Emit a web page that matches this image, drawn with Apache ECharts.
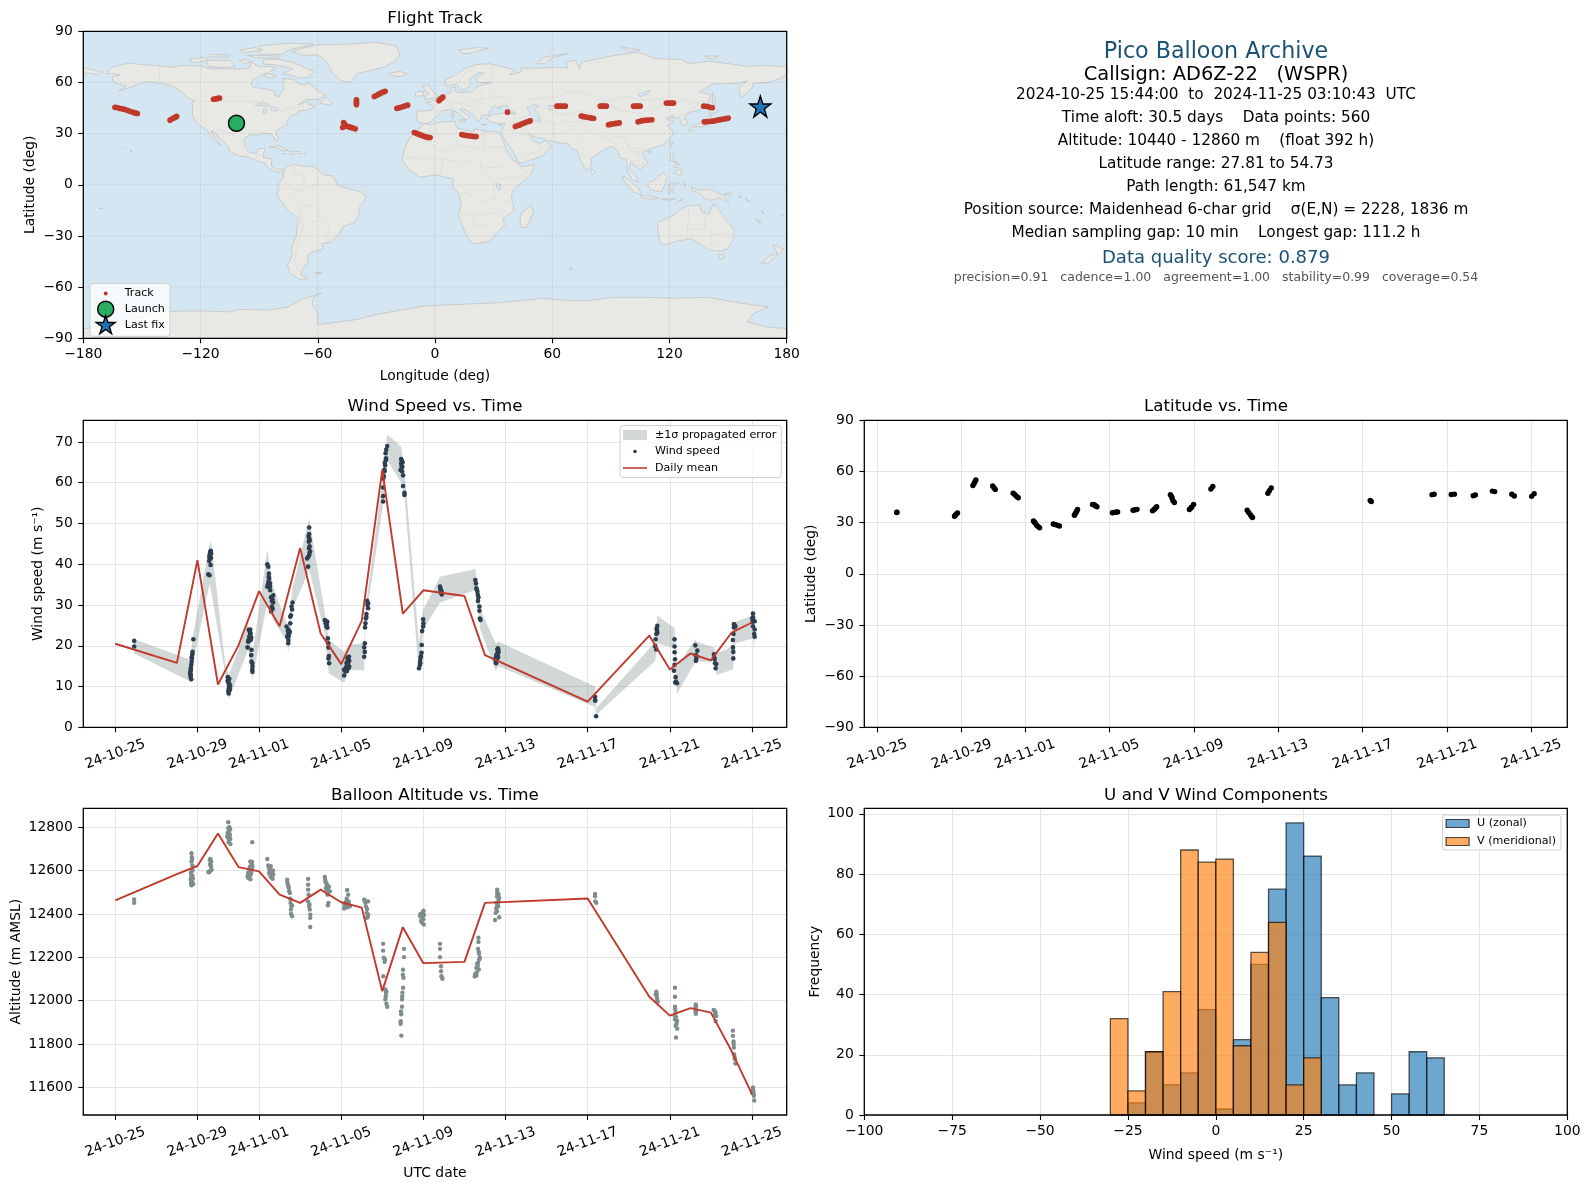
<!DOCTYPE html>
<html><head><meta charset="utf-8"><style>html,body{margin:0;background:#fff}#c{width:1590px;height:1189px}</style>
<script src="https://cdn.jsdelivr.net/npm/echarts@6/dist/echarts.min.js"></script></head><body><div id="c"></div>
<script>
const FONT='DejaVu Sans';
const RED='#c0392b',NAVY='#2c3e50',GREY='#7f8c8d',BLUE='#1a5276';
const xTickDays=[0,4,7,11,15,19,23,27,31];
const xTickLabels=['24-10-25','24-10-29','24-11-01','24-11-05','24-11-09','24-11-13','24-11-17','24-11-21','24-11-25'];
const meanDays=[0,3,4,5,6,7,8,9,10,11,12,13,14,15,17,18,23,26,27,28,29,30,31];
const windMean=[20.5,15.8,41,10.5,20.1,33.4,24.8,44,23,15.5,26.1,63.2,27.9,33.6,32.2,17.7,6.3,22.5,14.2,18.1,16.4,23.2,25.7];
const altMean=[12463,12584,12621,12771,12616,12596,12489,12451,12512,12454,12429,12044,12339,12173,12179,12451,12471,12018,11931,11966,11945,11769,11569];
const windPoints=[[.92,21.2],[.92,19.8],
[3.8,21.6],[3.76,18.5],[3.75,17.9],[3.73,16.9],[3.72,16.1],[3.7,15.3],[3.68,14.5],[3.66,13.6],[3.68,12.8],[3.66,12.4],[3.7,11.8],[3.64,13.2],[3.72,17.2],[3.67,14],
[4.64,43.1],[4.67,42.6],[4.62,41.8],[4.6,41.4],[4.57,40.8],[4.64,39.8],[4.53,37.5],[4.59,37.3],[4.65,43.3],[4.6,42.4],[4.66,41.5],[4.62,43],[4.58,41.9],
[5.48,12.3],[5.52,11.6],[5.47,11.4],[5.56,10.6],[5.59,10.1],[5.53,9.6],[5.58,9.2],[5.52,8.3],[5.5,11],[5.55,11.9],[5.54,10.2],[5.5,8.9],
[6.5,23.9],[6.55,23.4],[6.59,23],[6.52,22.2],[6.62,22],[6.49,21.4],[6.47,21],[6.44,19.6],[6.63,19],[6.62,17.7],[6.63,16.1],[6.67,15.7],[6.68,14.9],[6.67,14.1],[6.68,13.6],[6.56,22.6],[6.53,21.2],[6.6,21.5],[6.57,24],
[7.4,40],[7.45,39.4],[7.48,37.7],[7.49,36.5],[7.46,35.7],[7.53,35.3],[7.4,34.5],[7.53,34.5],[7.54,33.6],[7.69,32.4],[7.58,31.9],[7.66,31.4],[7.69,30.6],[7.62,29.6],[7.59,28.4],[7.66,29.1],[7.47,36.9],[7.5,35],[7.44,35.1],[7.62,31],
[8.63,30.6],[8.58,29.6],[8.61,28.9],[8.55,27.5],[8.52,27.1],[8.52,25.5],[8.34,24.7],[8.43,24],[8.5,23.4],[8.42,22.9],[8.37,22.2],[8.43,21.4],[8.42,20.6],[8.47,23.2],[8.4,23.6],[8.45,22.4],
[9.44,49],[9.44,47.4],[9.41,46.9],[9.47,45.8],[9.46,44.4],[9.43,43.9],[9.49,43.1],[9.44,42.2],[9.38,41.7],[9.34,41.4],[9.39,39.4],[9.42,45.5],[9.44,46.3],[9.46,42.8],
[10.2,26.3],[10.32,25.9],[10.25,25.5],[10.28,24.7],[10.33,24.4],[10.35,21.8],[10.37,20.6],[10.38,19.6],[10.4,17.5],[10.38,16.9],[10.41,15.7],[10.24,26.1],[10.3,25.2],
[11.38,17.3],[11.31,16.9],[11.39,16.3],[11.26,15.8],[11.32,15.3],[11.39,14.9],[11.23,14.7],[11.14,14.1],[11.26,14.2],[11.14,12.7],[11.35,16],[11.3,15.9],[11.35,14.5],[11.2,13.7],[11.33,17.2],[11.28,13.8],
[12.26,31],[12.31,30.4],[12.31,29.2],[12.23,27.8],[12.2,26.7],[12.18,25.5],[12.16,24.5],[12.15,20.6],[12.12,19.6],[12.15,18.5],[12.12,17.3],[12.28,30],[12.22,27],
[13.24,69],[13.19,68.1],[13.16,67.2],[13.17,65.5],[13.14,64.3],[13.11,62.8],[13.07,61.6],[13.04,61],[13.04,58.8],[13.04,56.7],[13.04,55.4],[13.18,66],[13.12,64.8],[13.1,63.2],
[13.92,65.8],[13.95,65.4],[13.92,64.7],[13.98,63.9],[13.89,63.1],[14.01,61.8],[14.01,59.2],[14.08,57.5],[14.08,57],[13.94,64],[13.99,65],[13.96,62.8],
[14.99,26.5],[15,25.5],[14.99,24.7],[14.94,23.6],[14.92,20.2],[14.91,18.3],[14.86,16.9],[14.84,16.1],[14.83,15.3],[14.79,14.5],[14.88,17.4],[14.85,15.7],
[15.81,34.5],[15.84,33.7],[15.86,33],[15.9,32.6],[15.83,34.1],[15.88,33.4],
[17.53,36.1],[17.56,35.3],[17.58,34.1],[17.63,33.3],[17.68,31.9],[17.66,31],[17.73,29.6],[17.73,28.6],[17.75,26.7],[17.78,26.3],[17.6,33.8],[17.65,32.5],
[18.65,19],[18.62,18.3],[18.56,17.7],[18.64,17.3],[18.51,16.9],[18.57,16.5],[18.54,15.7],[18.6,19],[18.58,17.9],[18.66,18.4],[18.52,16.3],[18.6,16.9],[18.63,19.4],[18.55,17],[18.62,17.6],
[23.36,7.5],[23.36,6.7],[23.37,6.5],[23.41,2.7],
[26.39,24.9],[26.36,24.3],[26.39,23.2],[26.34,22.9],[26.31,21.6],[26.29,19.9],[26.34,19.1],[26.37,23.8],
[27.23,21.6],[27.23,19.8],[27.23,18.4],[27.25,16.7],[27.23,15.3],[27.2,13.9],[27.28,12.3],[27.26,11],[27.35,10.8],[27.3,11.2],
[28.24,20.1],[28.34,18.8],[28.27,17.7],[28.29,16.9],[28.27,16.3],
[29.15,17.9],[29.18,16.7],[29.2,15.7],[29.26,15.5],[29.23,14.5],[29.16,17.2],
[30.15,25.1],[30.12,24.5],[30.19,24.7],[30.1,22.9],[30.07,21.4],[30.07,19.6],[30.09,18.5],[30.09,16.9],[30.12,25.3],
[31.05,27.9],[31.05,27],[31.01,26.7],[31.13,26],[31.05,24.8],[31.13,24],[31.13,22.2],[31.11,22.9],[31.07,26.2],[31.03,25.9]];
const bandDays=[.92,3.68,3.72,3.8,4.58,4.66,5.35,5.53,6.47,6.67,7.4,7.69,8.37,8.42,8.61,9.44,10.2,10.4,11.14,11.39,12.12,12.18,12.26,13.04,13.24,13.92,14.08,14.79,14.99,15.81,17.53,17.78,18.52,18.67,23.36,23.41,26.29,26.39,27.23,27.35,28.24,28.3,29.15,29.26,30.07,30.19,31.05,31.13];
const bandLow=[18.1,11.2,10.8,16.1,35,33.7,13.2,6.9,19,11.6,30.4,26.3,21,18.3,28.8,38.6,23,13.2,10.9,14,14,23.9,28.4,54.7,65.5,60,56.5,12.8,23.9,30.6,33.7,23.9,13.9,15,5,3,16.3,20.6,19.4,8.2,16.1,16.1,16.1,12.8,14.2,20.6,21.8,19.4];
const bandHigh=[21.6,16.5,20,23,44.5,45.7,15.7,12.8,25.5,17.5,43.5,34.5,25.1,23.5,33.7,51.2,28.3,21.4,18.5,20.3,20.6,26.7,32,61.5,71.9,68.8,63,20.6,28.8,36.9,38.8,28.8,20.6,21,10,4.7,21,27.4,24.3,14.9,21.6,21,19.6,18.1,19.8,25.9,27.5,25.5];
const altPoints=[[.92,12467],[.92,12451],
[3.71,12680],[3.73,12661],[3.71,12642],[3.75,12624],[3.68,12589],[3.76,12576],[3.67,12558],[3.73,12550],[3.8,12538],[3.71,12532],[3.69,12570],[3.76,12600],[3.72,12545],[3.78,12563],[3.74,12650],[3.69,12540],
[4.64,12654],[4.67,12642],[4.62,12630],[4.66,12619],[4.69,12604],[4.57,12592],[4.53,12593],[4.6,12650],[4.64,12625],[4.6,12597],
[5.5,12823],[5.56,12800],[5.53,12780],[5.58,12765],[5.48,12752],[5.55,12742],[5.61,12722],[5.52,12771],[5.45,12758],[5.59,12790],[5.5,12795],[5.56,12755],[5.6,12745],[5.52,12730],[5.47,12775],[6.67,12731],
[6.57,12642],[6.64,12627],[6.54,12611],[6.65,12604],[6.47,12589],[6.59,12581],[6.49,12566],[6.68,12619],[6.44,12573],[6.6,12600],[6.52,12595],[6.62,12590],[6.56,12618],[6.66,12640],[6.5,12580],[6.58,12560],[6.63,12612],
[7.4,12653],[7.45,12624],[7.53,12604],[7.61,12593],[7.69,12581],[7.56,12573],[7.66,12562],[7.49,12589],[7.48,12612],[7.57,12620],[7.65,12590],[7.6,12568],[7.52,12595],[7.68,12600],
[8.37,12558],[8.4,12535],[8.45,12520],[8.5,12497],[8.53,12451],[8.58,12435],[8.55,12420],[8.61,12389],[8.47,12505],[8.52,12470],[8.38,12545],[8.43,12528],[8.56,12400],[8.6,12440],
[9.39,12561],[9.39,12535],[9.39,12512],[9.41,12489],[9.38,12458],[9.44,12435],[9.47,12420],[9.5,12397],[9.49,12382],[9.49,12340],[9.45,12445],
[10.2,12570],[10.24,12547],[10.32,12532],[10.25,12520],[10.36,12512],[10.33,12489],[10.38,12451],[10.35,12440],[10.45,12504],[10.28,12540],[10.4,12525],[10.22,12558],[10.3,12510],
[11.29,12510],[11.34,12489],[11.36,12458],[11.23,12455],[11.18,12435],[11.14,12425],[11.32,12443],[11.42,12435],[11.25,12445],[11.3,12430],[11.2,12450],[11.38,12445],[11.16,12445],[11.27,12470],
[12.12,12466],[12.31,12458],[12.18,12451],[12.26,12423],[12.31,12397],[12.23,12382],[12.15,12460],[12.24,12405],[12.29,12385],[12.2,12435],
[13.04,12262],[13.04,12231],[13.07,12198],[13.11,12179],[13.05,12113],[13.15,12052],[13.2,12041],[13.17,12021],[13.15,12006],[13.2,11986],[13.24,11972],[13.13,12190],[13.18,12035],
[14.06,12239],[14.06,12201],[14.01,12143],[14.03,12106],[14.01,12060],[13.98,12037],[13.96,12006],[13.96,11972],[13.92,11937],[13.89,11894],[13.93,11839],[14,12120],[13.97,12020],[13.91,11950],[13.9,11905],
[14.99,12412],[14.86,12400],[14.94,12385],[14.89,12369],[15.02,12351],[14.97,12405],[14.91,12392],[15,12375],[14.93,12360],[15.03,12395],[14.84,12390],[15.01,12415],
[15.81,12262],[15.81,12239],[15.81,12201],[15.86,12159],[15.86,12136],[15.88,12113],[15.93,12101],[15.9,12107],
[17.68,12290],[17.68,12271],[17.66,12239],[17.71,12216],[17.75,12198],[17.66,12175],[17.58,12152],[17.7,12144],[17.52,12121],[17.58,12116],[17.72,12190],[17.65,12160],[17.6,12130],[17.55,12125],[17.7,12225],[17.62,12170],[17.5,12112],
[18.59,12512],[18.61,12492],[18.69,12474],[18.56,12451],[18.64,12435],[18.59,12412],[18.52,12405],[18.69,12385],[18.49,12372],[18.6,12500],[18.66,12465],[18.58,12480],[18.63,12450],[18.54,12425],[18.6,12440],[18.66,12490],
[23.36,12492],[23.36,12481],[23.37,12458],[23.42,12451],
[26.34,12041],[26.31,12029],[26.37,12014],[26.41,11995],[26.36,12030],[26.39,12003],
[27.25,12060],[27.25,12018],[27.25,11972],[27.28,11945],[27.25,11914],[27.35,11907],[27.28,11884],[27.36,11871],[27.3,11830],[27.26,11960],[27.3,11925],[27.24,11930],[27.33,11895],
[28.26,11983],[28.24,11968],[28.29,11956],[28.27,11940],[28.28,11975],[28.25,11950],
[29.13,11957],[29.23,11945],[29.26,11929],[29.23,11906],[29.17,11955],[29.2,11935],
[30.07,11862],[30.07,11838],[30.1,11812],[30.12,11784],[30.13,11753],[30.17,11730],[30.19,11710],[30.15,11740],[30.11,11800],
[31.05,11600],[31.06,11585],[31.01,11574],[31.09,11562],[31.11,11540],[31.04,11590],[31.08,11575]];
const latPoints=[[.92,35.9],[.93,36.1],[3.66,33.7],[3.7,34.3],[3.74,35],[3.8,35.7],[4.53,51.7],[4.58,52.8],[4.62,53.8],[4.67,55],[5.47,51.5],[5.53,50.5],[5.59,49.5],[6.44,47.2],[6.5,46.6],[6.55,46],[6.62,45.2],[6.68,44.6],[7.4,31],[7.44,30.4],[7.48,29.8],[7.55,28.5],[7.62,27.8],[7.69,27],[8.34,29.2],[8.4,29],[8.47,28.7],[8.55,28.4],[8.63,28],[9.34,34.3],[9.38,35.2],[9.42,36],[9.46,37],[9.49,37.7],[10.2,40.7],[10.25,40.5],[10.3,40.3],[10.35,39.8],[10.41,39.3],[11.14,35.8],[11.2,35.9],[11.27,36],[11.33,36.2],[11.39,36.3],[12.12,37.3],[12.2,37.5],[12.25,37.6],[12.31,37.8],[13.04,36.9],[13.1,37.5],[13.14,38],[13.2,38.7],[13.24,39.3],[13.89,46.4],[13.94,45.4],[13.97,44.5],[14.01,43],[14.08,41.8],[14.79,37.7],[14.85,38.5],[14.9,39.2],[14.99,40.7],[15.81,49.7],[15.9,51.2],[17.53,37.3],[17.6,36],[17.68,34.6],[17.74,33.6],[17.78,33],[18.51,47.2],[18.58,48.7],[18.67,50.3],[23.36,43],[23.41,42.4],[26.29,46.4],[26.39,46.6],[27.2,46.5],[27.35,46.7],[28.24,45.8],[28.34,46.2],[29.15,48.5],[29.26,48.2],[30.07,46.6],[30.19,45.6],[31.01,45.4],[31.13,47]];
const trackPoints=[[-163.8,45.5],[-163,45.3],[-162,45],[-161,44.7],[-160,44.5],[-159,44.2],[-158,43.9],[-157,43.5],[-156,43],[-155,42.7],[-154,42.3],[-153,42],[-152.3,41.8],[-132.2,40.1],[-133,39.6],[-133.5,39.3],[-134,39],[-134.6,38.6],[-135.6,37.9],[-110.3,50.8],[-111,50.7],[-111.8,50.5],[-112.6,50.3],[-113.4,50.2],
[-40.2,49.9],[-40.2,49],[-40.2,48.2],[-40.2,47.5],[-40.2,46.9],[-25.5,54.8],[-26.2,54.5],[-27,54.2],[-28,53.6],[-29,53],[-30,52.4],[-31.1,51.8],[-14,46.7],[-14.8,46.5],[-15.5,46.2],[-16.5,45.8],[-17.5,45.4],[-18.5,45.1],[-19.5,44.8],
[-46.8,36.5],[-46.4,35.7],[-46,35],[-45,34.3],[-44.2,34],[-43.5,33.8],[-42.7,33.5],[-42,33.3],[-40.8,32.8],[-47.3,33.6],[-46.5,34.2],
[-10.6,30.7],[-9.8,30.3],[-9,29.9],[-8.2,29.6],[-7.6,29.3],[-6.8,29],[-6,28.6],[-5.2,28.3],[-4.5,28],[-3.5,27.8],[-2.5,27.7],[3,50.4],[3.5,50.9],[4,51.4],[2,49.3],[2.5,49.8],
[13.7,29.5],[14.6,29.2],[15.5,29],[16.5,28.9],[17.5,28.7],[18.5,28.5],[19.5,28.4],[20.3,28.3],[21.1,28.3],[37.1,42.6],[41.1,34.2],[42,34.6],[43,34.9],[44,35.4],[45,35.9],[46,36.4],[47,36.8],[48,37.2],[48.7,37.5],
[62.4,46.1],[63.4,46.1],[64.5,46.1],[65.6,46.1],[66.7,46.1],[74.8,40.3],[75.7,40.1],[76.5,39.9],[77.5,39.7],[78.5,39.5],[79.5,39.3],[80.3,39.1],[81.2,38.9],[84.6,46.1],[85.3,46.1],[86,46.1],[87,46.1],[87.7,46.1],[88.8,35.2],[89.7,35.4],[90.5,35.6],[91.5,35.8],[92.5,36],[93.4,36.1],[94.3,36.3],[101.6,46.1],[102.5,46.1],[103.3,46.1],[104.2,46.1],[105,46.1],[103.9,36.9],[105,37.3],[106,37.6],[107.2,37.8],[108.5,37.9],[109.7,38],[111,38.1],[118.4,47.9],[119.3,47.9],[120.2,47.9],[121.2,47.9],[122.1,47.9],[137.5,46.1],[138.5,46],[139.5,45.9],[140.7,45.5],[141.9,45.2],[137.8,36.9],[139,37],[140,37.1],[141,37.2],[142,37.3],[143,37.5],[144,37.8],[145,38],[146,38.2],[147,38.4],[148,38.6],[149,38.8],[150.1,39.1],[165.4,44.8]];
const launchPoint=[-101.6,36.1];
const lastFixPoint=[166.5,45.9];
const binStarts=[-30,-25,-20,-15,-10,-5,0,5,10,15,20,25,30,35,40,45,50,55,60];
const uCounts=[0,4,21,10,14,35,2,25,50,75,97,86,39,10,14,0,7,21,19];
const vCounts=[32,8,21,41,88,84,85,23,54,64,10,19,0,0,0,0,0,0,0];
const lonTicks=[-180,-120,-60,0,60,120,180];
const latTicks=[-90,-60,-30,0,30,60,90];
const windTicks=[0,10,20,30,40,50,60,70];
const altTicks=[11600,11800,12000,12200,12400,12600,12800];
const histXTicks=[-100,-75,-50,-25,0,25,50,75,100];
const histYTicks=[0,20,40,60,80,100];
const land=[
[[-168,65.5],[-166,68.5],[-162,70],[-156.5,71.3],[-150,70.5],[-141,69.7],[-135,69],[-128,70],[-120,69.5],[-115,68],[-108,68],[-100,68],[-95,68.5],[-94,72],[-90,69],[-85,69.5],[-81.5,68.5],[-85,66],[-87,65],[-93,62],[-94.5,59],[-92.5,57],[-88,56.5],[-82.5,55],[-82,52.5],[-79.5,51.5],[-79,54],[-77,56],[-78,59],[-77.5,62.5],[-72,61.5],[-69,59],[-66,58.5],[-64.5,60.3],[-61.5,56.5],[-56,52.5],[-60,50],[-66,50],[-70,47],[-65,49],[-64.5,47],[-61,46],[-65.5,43.7],[-70,43.5],[-70.5,41.7],[-74,40.5],[-75.5,37.5],[-76,35],[-81,32],[-81.3,30],[-80,26.5],[-81,25.2],[-82.7,28],[-84,30],[-89,30.2],[-90,29.2],[-94,29.5],[-97.3,27.5],[-97.7,22.5],[-95,18.7],[-91.5,18.5],[-90.5,21],[-87,21.5],[-88,16],[-83.5,15],[-83.7,11],[-81,9],[-78,9.5],[-77.3,8],[-78.5,8],[-80,7.3],[-83,8.3],[-85.7,10],[-87.5,13],[-91,14],[-95,16],[-100,17],[-105,19.5],[-105.5,22],[-109,26],[-113,31],[-114.7,31.5],[-112,27],[-109.5,23],[-112,25],[-115,29],[-117,32.5],[-120.5,34.5],[-122.5,37.5],[-124.3,40.5],[-124,46],[-124.5,48.4],[-123,49],[-127,51.5],[-130,54.5],[-133,57],[-137,58.5],[-143,60],[-148,60.5],[-152,59],[-156,57],[-162,55],[-158,58],[-162,59],[-165,61],[-165,63.5],[-161,64.5]],
[[-180,68.5],[-175,67.5],[-170,66],[-173,64.5],[-178,65.5],[-180,65]],
[[-73,78],[-68,80],[-60,82],[-45,82.5],[-30,83.5],[-20,81.5],[-18,76.5],[-21,72],[-26,69],[-33,67],[-40,65],[-43,60],[-48,61],[-52,65],[-54,69],[-56,73],[-60,76],[-68,76]],
[[-80,73.5],[-72,71.5],[-67,69],[-62,66.5],[-65,63],[-70,62.5],[-74,64.5],[-78,65],[-73,68],[-80,70],[-88,71],[-88,73.5]],
[[-117,73],[-105,73],[-102,69.5],[-110,68.7],[-116,69.5]],[[-125,74],[-118,74.5],[-116,73],[-122,71.5],[-125,72]],
[[-90,76.5],[-78,76.5],[-75,79],[-62,82.5],[-75,83],[-90,81.5]],[[-96,76],[-80,75.5],[-80,74.5],[-92,74.5]],[[-115,76.5],[-105,76],[-106,74.8],[-115,75]],
[[-100,79],[-92,80.5],[-88,79],[-97,77.5]],[[-87,65.5],[-81,64],[-84,62.5],[-87,63.5]],[[-100,73],[-96,73.5],[-94,72],[-98,71]],
[[-59,47.7],[-53,46.7],[-53,48.5],[-56,51.5]],[[-85,22],[-80,23],[-74.5,20],[-77.5,20],[-82,22]],[[-74,19.5],[-69,19.5],[-68.5,18.3],[-74,18]],[[-78.3,18.4],[-76.3,18.2],[-77,17.8]],[[-67.2,18.5],[-65.7,18.4],[-66,18]],
[[-156,20.2],[-155,19.7],[-155.6,19]],[[-159.7,22.2],[-159.3,22.1],[-159.5,21.8]],[[-158.2,21.6],[-157.7,21.4],[-158,21.2]],
[[-61,-51.4],[-58,-51.4],[-58.5,-52.2],[-61,-52.2]],[[-170,-14],[-171,-13.5],[-172,-14]],
[[-77.5,8],[-75.5,10.8],[-72,12],[-68,11],[-62,10.5],[-57,6],[-52,5],[-50,0],[-44,-2.5],[-38,-4],[-35,-7],[-39,-14],[-39,-18],[-41,-22],[-47,-24.5],[-48.5,-28],[-53,-33.5],[-58,-34.5],[-57,-38],[-62,-39],[-65,-41],[-65,-45],[-68,-50],[-68.5,-53],[-65,-55],[-69,-55.5],[-74,-52],[-75.5,-47],[-73,-41],[-73.5,-37],[-71,-30],[-70,-20],[-76,-14],[-81,-6],[-80,-2],[-80,1],[-77.5,4]],
[[-6,35.8],[-2,35.2],[3,36.8],[10,37.3],[11,33.5],[15,32.3],[20,31],[20,32.8],[25,31.6],[32,31],[34.3,27.5],[35.5,24],[37,19],[39.5,15],[43,12],[44,10.5],[51,11.8],[49,6],[44,1],[40,-3],[39,-7],[40.5,-15],[35,-20],[35.5,-24],[32.7,-27],[28,-33],[20,-34.8],[18,-33],[15,-27],[12,-18],[13.5,-11],[12,-5],[9,-1],[9.5,3.5],[6,4.3],[1,5.8],[-4,5],[-8,4.5],[-13,8.5],[-17,14.5],[-16,20],[-13,27.5],[-9.5,31]],
[[-9,37],[-9.5,39],[-9,43.2],[-2,43.5],[-1,46],[-4.5,48.4],[-1.5,49],[2,51],[4,52],[8,54],[8.3,57],[10.5,57.5],[10,55],[12,54],[19,54.5],[21,57],[24,58.5],[29,60],[23,60],[21,61],[21.5,63],[25,65.5],[22,65.7],[17.5,62],[18.5,60],[16,56],[13,55.5],[11,59],[6,58],[5,61.5],[10,64],[15,68],[21,70.5],[28,71],[33,69.5],[41,67.5],[38,64.5],[44,66],[44,68.5],[54,68.5],[60,69],[68,68.5],[67,72],[72,73],[74,68],[75,72],[80,73],[90,75.5],[104,77.7],[113,74],[126,73.5],[130,71],[140,72.5],[150,71],[160,69.5],[170,70],[180,69],[180,65],[177,62.5],[170,60],[163,59.5],[162,56],[156.5,51],[155.5,57],[160,61],[155,59.5],[142,59],[135,54.5],[141,53],[140,48],[135,43.5],[130,42.5],[127.5,39.5],[129.5,36],[126.5,34.5],[126,37],[125,39.5],[121,39],[122,40.8],[118,39],[122.5,37],[119,35],[122,31],[121,28],[117,23.5],[110,21],[106,19],[109,13],[105,9],[103,11],[100,13.5],[99.5,9],[103,5],[104,1.5],[101,3],[98.5,8],[98,15],[94.5,16],[94,19],[91,22.5],[87,21],[80,15.5],[80,11],[77.5,8],[74.5,14],[72.8,20],[70,21],[68,24],[62,25],[57,26],[56,27],[51,28],[48,30],[50,26],[51.5,25],[54,24],[56.3,26],[59.5,22.5],[55,17],[45,13],[43,13],[39,21],[35,28],[34,31.3],[36,36],[32,36.2],[28,36.7],[26.5,39],[29,41],[35,42],[41.5,41.5],[38,44.5],[37,46.5],[33,46],[33.5,44.5],[30.5,46.5],[28,43],[28,41],[24,40.8],[23,38],[22,37],[19.5,41],[14,45],[12.5,44],[18,40],[16,38],[12,42],[8.5,44.3],[3.5,43.3],[0,39.5],[-2,36.8],[-5.5,36]],
[[-5.5,50],[1.5,51.2],[0,53.5],[-2,56],[-3,58.7],[-6,58],[-5,55],[-3,54],[-5,52]],[[-10,52],[-6,52.2],[-6,55],[-10,54.2]],[[-24,65.5],[-18,66.5],[-14,65],[-18,63.4],[-22.5,64]],
[[12,79],[22,80.5],[27,80],[18,77],[14,77]],[[52,71],[56,75],[68,77],[60,74.5],[56,71]],[[95,81],[105,79],[100,78]],[[138,75.5],[145,75.5],[142,73.5]],
[[142,54],[143.5,50],[143,46],[142,48]],[[130,31.5],[131.5,31.5],[132,34],[136,34],[140,35],[141.5,38],[141.5,41],[140,40.5],[138.5,37.5],[136,36],[132,35],[130,33.5]],[[140,42],[141.5,45.3],[145,43.5],[143,42]],
[[120.2,25],[122,25],[120.8,22]],[[108.8,19.5],[111,20],[110,18.3]],[[120.5,18.5],[122,18],[122,14],[124,13],[120.5,14]],[[122,7],[125.5,9.5],[126.5,7],[125,5.7]],[[122.5,11.5],[125,12.5],[124,10],[122.5,10]],
[[95.5,5.5],[98,4],[104,-2],[106,-5.8],[102,-4.5],[97,2]],[[105,-6.5],[110,-6.5],[114.5,-7.8],[111,-8.5],[106,-7.5]],[[109,1.5],[111,2],[114,4.5],[117,7],[119,5],[117.8,1],[116,-4],[111,-3.3],[109,-.5]],[[119.5,-5.5],[120,.5],[125,1.5],[121,-1],[122.5,-5],[120.5,-3]],[[116,-8.3],[119,-8.3],[123,-8.4],[120,-9]],[[124,-10],[127,-8.5],[123.5,-10.3]],[[127.5,2],[128.5,.5],[127.7,-.5]],
[[131,-1],[135,-3.3],[141,-2.5],[147,-6],[150.5,-10.5],[145,-7.7],[141,-9],[138,-8],[135,-4.5],[132,-3.5]],[[148,-5.5],[152,-4],[151,-6.2]],[[155,-6],[157,-7.5],[155.5,-7]],[[159,-8],[161.5,-10],[160,-9.8]],[[167,-15],[167.5,-16.5],[168.5,-17]],[[164,-20],[167,-22],[166,-22.2]],[[177,-17.5],[178.5,-17.5],[178,-18.3]],
[[114,-22],[122,-18],[126,-14],[130,-12],[136,-12],[136,-15],[140,-17.5],[142.5,-11],[145.5,-15],[149,-21],[153,-26],[153,-31],[150,-37.5],[146,-39],[140,-38],[136,-35],[131,-31.5],[124,-33],[118,-35],[115,-34],[114,-26]],
[[145,-41],[148,-41],[147.5,-43.5],[146,-43.5]],[[173,-35],[178.5,-37.7],[175,-41.5],[174.5,-38.5]],[[172.5,-40.7],[174,-42],[170.5,-46],[167,-46],[170,-43]],
[[49.5,-12],[50.5,-16],[47,-25],[44,-25],[43.5,-20],[44.5,-16]],[[80,9.7],[82,7.5],[80.5,6],[79.8,8]],[[68.5,-49],[70.5,-49.2],[69.5,-50]],
[[12.4,38],[15.5,38.2],[15,36.7]],[[8.2,41],[9.8,41],[9.5,39],[8.5,39]],[[8.6,43],[9.5,43],[9.2,41.4]],[[23.5,35.5],[26.3,35.3],[24.5,34.9]],[[32.5,35.1],[34.5,35.6],[33.5,34.6]],
[[-180,-84.3],[-160,-82],[-150,-77.5],[-160,-75.5],[-130,-74],[-118,-74],[-105,-74.5],[-100,-73],[-85,-73.5],[-75,-71.5],[-68,-67],[-58,-63.5],[-62,-65.5],[-63,-70],[-60,-75],[-60,-82],[-40,-79],[-30,-76],[-15,-73],[-5,-71],[15,-70],[35,-69],[55,-66.5],[70,-68],[78,-68],[90,-66],[110,-66],[120,-66.5],[140,-66],[160,-70],[170.8,-71.6],[163,-75.5],[159.7,-80.4],[170,-83.4],[180,-84.3],[180,-90],[-180,-90]]];
const inlandWater=[[[47,45],[51,47],[53.5,46],[51,44.5],[53,41],[54,37],[50,37.5],[49,40.5]],[[58,46.5],[61,46.5],[60,44],[58.5,44]],[[-88,48.5],[-84.5,47],[-85,46],[-92,46.8]],[[-87.5,45],[-86,44],[-86.5,42],[-88,42]],[[-84,46],[-80,45],[-81.5,43],[-84,44]],[[31,1],[34,0],[33,-3],[32,-2]],[[103.5,53],[110,55.5],[109,53.5],[105,51.5]]];
const borders=[[[-141,69.7],[-141,60.2],[-135,58.8],[-130,55]],[[-123,49],[-95,49],[-88,48],[-83,45.5],[-79,43],[-75,45],[-71,45],[-68,47],[-67,45]],[[-117,32.5],[-108,31.5],[-104,29.5],[-97.3,25.9]],[[-92,14.7],[-91,17.5],[-89,17.8],[-88,15.5]],
[[-72,12],[-72,7],[-67,6],[-67,1],[-70,-4],[-74,-7.5],[-70,-11],[-69,-16],[-69,-22]],[[-60,5],[-60,1],[-70,-4]],[[-69,-11],[-60,-13.5],[-58,-20],[-55,-24],[-54,-27],[-57,-30.5],[-53,-33.5]],[[-70,-18],[-67,-23],[-70,-33],[-72,-45],[-69,-52]],[[-80,-3],[-75,-1],[-70,-4]],[[-60,-20],[-62,-22],[-65,-22]],
[[-9,27.5],[-3,30],[-2,35]],[[-13,27.5],[-8,27],[4,19],[12,23.5],[25,20],[25,31.6]],[[12,23.5],[10,30],[8,33],[9,37]],[[25,22],[36,22]],[[-16,16],[-5,15.5],[4,15],[14,13],[23,15],[24,10],[34,10],[37,15]],[[4,15],[3,6.5]],[[14,13],[9,4.5]],[[24,10],[28,4],[34,4],[41,4],[48,8]],[[34,4],[30,-1],[30,-8],[40,-11]],[[12,-5],[17,-5],[22,-11],[30,-8]],[[12,-17.5],[23,-17.5],[33,-16],[35,-20]],[[17,-28.5],[20,-25],[20,-18]],[[20,-25],[30,-22.5],[32,-26]],
[[-2,43.5],[3,42.5]],[[2,51],[6,49.5],[8,47.5],[7,44]],[[7,53.5],[6,50],[8,47.5],[13,47.5],[16,48.5],[23,48.5],[29,45.5]],[[14,54],[15,51],[19,49.5],[24,50.5],[23.5,54],[21,55.3]],[[13,47],[19,46],[22,44],[23,41.5]],[[24,50.5],[33,52],[40,49.5],[38,47]],[[28,56],[32,52.5]],[[28,60],[30,65],[29,69.5]],[[12,59],[14,64],[20,69]],
[[36,36],[42,37],[44.5,39.5],[49,41]],[[42,37],[46,35],[48,30]],[[36,32],[39,32],[46,29],[48,29]],[[44,17],[52,19],[55,22],[52,24]],[[46,39],[48,38],[56,38],[61,36],[61,30],[62,25]],[[61,36],[67,37],[74,37]],[[61,30],[66,30],[70,33],[74,37],[78,33],[74,27],[70,24]],
[[47.5,50],[55,51],[61,51],[69,55],[77,53.5],[83,51],[87,49]],[[54,42],[56,45],[66,41],[74,43],[80,42.5],[83,47],[87,49]],[[87,49],[98,52],[105,50],[116,50],[120,53],[127,50],[131,48],[135,48],[131,43]],[[87,49],[91,45.5],[96,43],[105,42],[112,45],[120,47],[116,50]],[[74,37],[80,42.5]],[[78,33],[80,30],[88,28],[97,28],[98,24],[102,21.5],[108,21.5]],[[88,27],[92,25],[93,22]],[[98,24],[100,20],[98,15]],[[102,21.5],[107,15],[106,11]],[[100,20],[105,18],[107,15]],[[100,14],[103,14],[105,14.5]],[[124.5,40],[130,42.5]],[[125,38],[128.5,38.4]],
[[130,-12],[129,-31.5]],[[129,-26],[141,-26],[141,-38]],[[138,-16.5],[138,-26]],[[141,-29],[153,-28.5]],[[141,-34],[149,-37.5]],[[141,-2.5],[141,-9]],[[110,1.5],[114,2],[117,4.5]]];
const STAR='M50 0L61.2 34.5L97.6 34.5L68.2 55.9L79.4 90.5L50 69.1L20.6 90.5L31.8 55.9L2.4 34.5L38.8 34.5Z';
const LEG_BOX='M0 0h0M130 0h0M0 100h0M130 100h0';
const panels={map:{left:83.3,top:31.3,width:703.4,height:307},wind:{left:83.3,top:420.3,width:703.4,height:307},lat:{left:864.3,top:420.3,width:703,height:307},alt:{left:83.3,top:808.3,width:703.4,height:306.7},hist:{left:864.3,top:808.3,width:703,height:306.7}};
const TICK_PX=13.9;
const tickLabel={color:'#000',fontFamily:FONT,fontSize:TICK_PX};
const nameStyle={color:'#000',fontFamily:FONT,fontSize:TICK_PX};
function timeAxis(gridIndex,name,min,max,gap){return {gridIndex,type:'value',min,max,name:name||'',nameLocation:'middle',nameGap:gap||51,nameTextStyle:nameStyle,
 axisLine:{show:false,onZero:false},axisTick:{show:true,length:5,customValues:xTickDays,lineStyle:{color:'#000',width:1.1}},
 splitLine:{show:true,lineStyle:{color:'#e4e4e4',width:1.1}},
 axisLabel:{...tickLabel,customValues:xTickDays,rotate:20,align:'center',verticalAlign:'middle',margin:27,formatter:v=>xTickLabels[xTickDays.indexOf(Math.round(v))]||''}};}
function valAxis(gridIndex,horizontal,min,max,ticks,name,gap,grid){return {gridIndex,type:'value',min,max,name,nameLocation:'middle',nameGap:gap,nameTextStyle:nameStyle,
 axisLine:{show:false,onZero:false},axisTick:{show:true,length:5,customValues:ticks,lineStyle:{color:'#000',width:1.1}},
 splitLine:{show:grid,lineStyle:{color:'#e4e4e4',width:1.1}},
 axisLabel:{...tickLabel,customValues:ticks,margin:horizontal?9:10.5,formatter:v=>String(v).replace('-','\u2212')}};}
const gridOpt=k=>({...panels[k],show:true,borderWidth:0,backgroundColor:k==='map'?'#d4e6f1':'transparent',containLabel:false});
function poly(api,pts){return pts.map(p=>api.coord(p));}
function legendStyle(extra,textPad){return Object.assign({orient:'vertical',backgroundColor:'rgba(255,255,255,0.8)',borderColor:'#d0d0d0',borderWidth:1,borderRadius:3,align:'left',textStyle:{fontFamily:FONT,fontSize:11.1,color:'#000',padding:[0,0,0,textPad]}},extra);}
function barSeries(name,counts,color,x,y){return {name,type:'custom',xAxisIndex:x,yAxisIndex:y,data:binStarts.map((s,i)=>[s,s+5,counts[i]]).filter(d=>d[2]>0),encode:{x:[0,1],y:2},
 renderItem:(p,api)=>{const a=api.coord([api.value(0),api.value(2)]),b=api.coord([api.value(1),0]);return {type:'rect',shape:{x:a[0],y:a[1],width:b[0]-a[0],height:b[1]-a[1]},style:{fill:color,stroke:'rgba(0,0,0,0.65)',lineWidth:1.3}};}};}
function frameSeries(i,x0,x1,y0,y1){return {name:'frame'+i,type:'custom',xAxisIndex:i,yAxisIndex:i,silent:true,clip:false,z:20,data:[[0]],renderItem:(p,api)=>{const a=api.coord([x0,y1]),b=api.coord([x1,y0]);return {type:'rect',shape:{x:a[0],y:a[1],width:b[0]-a[0],height:b[1]-a[1]},style:{fill:null,stroke:'#000',lineWidth:1.3}};}};}
const titles=[];
function addTitle(text,cx,top,size,color){titles.push({text,left:cx,top,textAlign:'center',padding:0,textStyle:{fontFamily:FONT,fontWeight:'normal',fontSize:size,color:color||'#000',lineHeight:size*1.15}});}
addTitle('Flight Track',435,9,16.7);addTitle('Wind Speed vs. Time',435,397,16.7);addTitle('Balloon Altitude vs. Time',435,786,16.7);addTitle('Latitude vs. Time',1216,397,16.7);addTitle('U and V Wind Components',1216,786,16.7);
const infoLines=[['Pico Balloon Archive',39.5,22.2,BLUE],['Callsign: AD6Z-22   (WSPR)',63.5,19.4,'#000'],['2024-10-25 15:44:00  to  2024-11-25 03:10:43  UTC',86.5,15.3,'#000'],['Time aloft: 30.5 days    Data points: 560',109.5,15.3,'#000'],['Altitude: 10440 - 12860 m    (float 392 h)',132.5,15.3,'#000'],['Latitude range: 27.81 to 54.73',155.5,15.3,'#000'],['Path length: 61,547 km',178.5,15.3,'#000'],['Position source: Maidenhead 6-char grid    \u03c3(E,N) = 2228, 1836 m',201.5,15.3,'#000'],['Median sampling gap: 10 min    Longest gap: 111.2 h',224.5,15.3,'#000'],['Data quality score: 0.879',248,18.05,BLUE],['precision=0.91   cadence=1.00   agreement=1.00   stability=0.99   coverage=0.54',271,12.5,'#555']];
infoLines.forEach(l=>addTitle(l[0],1216,l[1],l[2],l[3]));
const WMIN=-1.557,WMAX=32.69,LMIN=-0.616,LMAX=32.7;
const option={animation:false,backgroundColor:'#fff',textStyle:{fontFamily:FONT},title:titles,
grid:[gridOpt('map'),gridOpt('wind'),gridOpt('lat'),gridOpt('alt'),gridOpt('hist')],
xAxis:[valAxis(0,true,-180,180,lonTicks,'Longitude (deg)',31,false),timeAxis(1,'',WMIN,WMAX),timeAxis(2,'',LMIN,LMAX),timeAxis(3,'UTC date',WMIN,WMAX,51),valAxis(4,true,-100,100,histXTicks,'Wind speed (m s\u207b\u00b9)',33,true)],
yAxis:[valAxis(0,false,-90,90,latTicks,'Latitude (deg)',46,false),valAxis(1,false,0,75.3,windTicks,'Wind speed (m s\u207b\u00b9)',38,true),valAxis(2,false,-90,90,latTicks,'Latitude (deg)',46,true),valAxis(3,false,11473,12887,altTicks,'Altitude (m AMSL)',60,true),valAxis(4,false,0,101.85,histYTicks,'Frequency',42,true)],
legend:[
legendStyle({left:90,top:283.5,padding:[0,5,0,2],itemWidth:26,itemHeight:20,itemGap:-5,data:[
 {name:'Track',icon:'path://'+LEG_BOX+'M55 50a10 10 0 1 0 20 0a10 10 0 1 0 -20 0z',itemStyle:{color:RED}},
 {name:'Launch',icon:'path://'+LEG_BOX+'M25 50a40 40 0 1 0 80 0a40 40 0 1 0 -80 0z',itemStyle:{color:'#27ae60',borderColor:'#000',borderWidth:1.4}},
 {name:'Last fix',icon:'path://'+LEG_BOX+'M65 0L76.2 34.5L112.6 34.5L83.2 55.9L94.4 90.5L65 69.1L35.6 90.5L46.8 55.9L17.4 34.5L53.8 34.5Z',itemStyle:{color:'#1f77b4',borderColor:'#000',borderWidth:1.4}}]},1),
legendStyle({left:620,top:425.5,padding:[4,5,4,3],itemWidth:24,itemHeight:10,itemGap:5.5,data:[
 {name:'\u00b11\u03c3 propagated error',icon:'rect',itemStyle:{color:'rgba(127,140,141,0.35)'}},
 {name:'Wind speed',icon:'path://M0 0h0M24 0h0M0 10h0M24 10h0M10.2 5a1.8 1.8 0 1 0 3.6 0a1.8 1.8 0 1 0 -3.6 0z',itemStyle:{color:NAVY}},
 {name:'Daily mean',icon:'path://M0 0h0M24 0h0M0 10h0M24 10h0M0 4.2h24v1.6H0z',itemStyle:{color:RED}}]},3),
legendStyle({left:1442.5,top:815,padding:[3,5,3,3],itemWidth:23,itemHeight:8,itemGap:7,data:[
 {name:'U (zonal)',icon:'rect',itemStyle:{color:'rgba(31,119,180,0.65)',borderColor:'rgba(0,0,0,0.7)',borderWidth:1.2}},
 {name:'V (meridional)',icon:'rect',itemStyle:{color:'rgba(255,127,14,0.65)',borderColor:'rgba(0,0,0,0.7)',borderWidth:1.2}}]},3)],
series:[
{name:'land',type:'custom',xAxisIndex:0,yAxisIndex:0,silent:true,clip:true,z:1,data:land.map((_,i)=>[i]),renderItem:(p,api)=>({type:'polygon',shape:{points:poly(api,land[p.dataIndex])},style:{fill:'#e8e8e4',stroke:'#c2c4c4',lineWidth:.8}})},
{name:'water',type:'custom',xAxisIndex:0,yAxisIndex:0,silent:true,clip:true,z:1,data:inlandWater.map((_,i)=>[i]),renderItem:(p,api)=>({type:'polygon',shape:{points:poly(api,inlandWater[p.dataIndex])},style:{fill:'#d4e6f1',stroke:'#c2c4c4',lineWidth:.7}})},
{name:'borders',type:'custom',xAxisIndex:0,yAxisIndex:0,silent:true,clip:true,z:1,data:borders.map((_,i)=>[i]),renderItem:(p,api)=>({type:'polyline',shape:{points:poly(api,borders[p.dataIndex])},style:{fill:null,stroke:'#dcdcd8',lineWidth:.8}})},
{name:'graticule',type:'custom',xAxisIndex:0,yAxisIndex:0,silent:true,clip:true,z:1,data:[[0]],renderItem:(p,api)=>{const kids=[];const st={stroke:'rgba(128,128,128,0.28)',lineWidth:.8,lineDash:[2,2]};
 lonTicks.forEach(t=>{const a=api.coord([t,-90]),b=api.coord([t,90]);kids.push({type:'line',shape:{x1:a[0],y1:a[1],x2:b[0],y2:b[1]},style:st});});
 latTicks.forEach(t=>{const a=api.coord([-180,t]),b=api.coord([180,t]);kids.push({type:'line',shape:{x1:a[0],y1:a[1],x2:b[0],y2:b[1]},style:st});});
 return {type:'group',children:kids};}},
{name:'Track',type:'scatter',xAxisIndex:0,yAxisIndex:0,data:trackPoints,symbolSize:5.6,itemStyle:{color:RED,opacity:1},z:3},
{name:'Launch',type:'scatter',xAxisIndex:0,yAxisIndex:0,data:[launchPoint],symbolSize:16,itemStyle:{color:'#27ae60',borderColor:'#000',borderWidth:1.4,opacity:1},z:4},
{name:'Last fix',type:'scatter',xAxisIndex:0,yAxisIndex:0,data:[lastFixPoint],symbol:'path://'+STAR,symbolSize:21,itemStyle:{color:'#1f77b4',borderColor:'#000',borderWidth:1.4,opacity:1},z:4},
{name:'\u00b11\u03c3 propagated error',type:'custom',xAxisIndex:1,yAxisIndex:1,silent:true,clip:true,z:2,data:[[0]],renderItem:(p,api)=>{const up=bandDays.map((d,i)=>api.coord([d,bandHigh[i]]));const lo=bandDays.map((d,i)=>api.coord([d,bandLow[i]])).reverse();return {type:'polygon',shape:{points:up.concat(lo)},style:{fill:'rgba(127,140,141,0.35)'}};}},
{name:'Wind speed',type:'scatter',xAxisIndex:1,yAxisIndex:1,data:windPoints,symbolSize:4.6,itemStyle:{color:NAVY,opacity:1},z:3},
{name:'Daily mean',type:'line',xAxisIndex:1,yAxisIndex:1,data:meanDays.map((d,i)=>[d,windMean[i]]),symbol:'none',lineStyle:{color:RED,width:1.9},itemStyle:{color:RED},z:4},
{name:'Latitude',type:'scatter',xAxisIndex:2,yAxisIndex:2,data:latPoints,symbolSize:5.4,itemStyle:{color:'#000',opacity:1},z:3},
{name:'Altitude',type:'scatter',xAxisIndex:3,yAxisIndex:3,data:altPoints,symbolSize:4.4,itemStyle:{color:GREY,opacity:1},z:3},
{name:'Altitude mean',type:'line',xAxisIndex:3,yAxisIndex:3,data:meanDays.map((d,i)=>[d,altMean[i]]),symbol:'none',lineStyle:{color:RED,width:1.9},z:4},
{...barSeries('U (zonal)',uCounts,'rgba(31,119,180,0.65)',4,4),z:3},
{...barSeries('V (meridional)',vCounts,'rgba(255,127,14,0.65)',4,4),z:4},
frameSeries(0,-180,180,-90,90),frameSeries(1,WMIN,WMAX,0,75.3),frameSeries(2,LMIN,LMAX,-90,90),frameSeries(3,WMIN,WMAX,11473,12887),frameSeries(4,-100,100,0,101.85)
]};
const chart=echarts.init(document.getElementById('c'),null,{renderer:'canvas'});
chart.setOption(option);
</script></body></html>
